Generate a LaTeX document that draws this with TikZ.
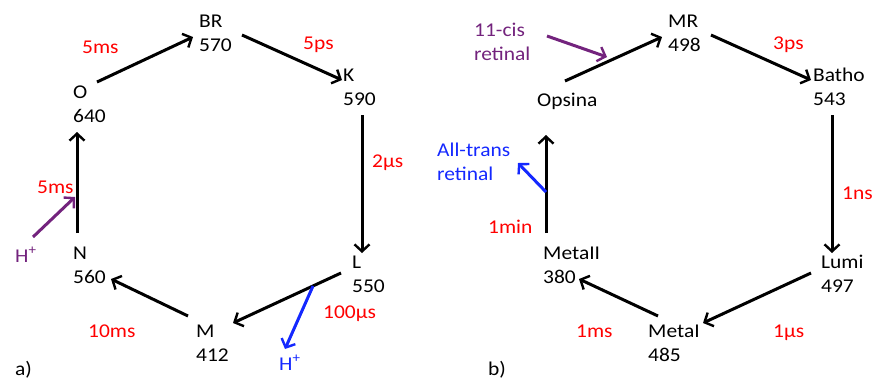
\documentclass[tikz,border=0pt]{standalone}
\usepackage{fontspec}
\setmainfont[FakeStretch=1.1]{Carlito}
\usetikzlibrary{arrows.meta}
\definecolor{tred}{RGB}{255,0,0}
\definecolor{tpurple}{RGB}{115,35,125}
\definecolor{tblue}{RGB}{20,40,255}
\tikzset{
  lbl/.style={anchor=base west, inner sep=0pt, align=left, font=\fontsize{19.5}{24}\selectfont},
  state/.style={lbl, text=black},
  rate/.style={lbl, text=tred},
  arr/.style={line width=3pt, -{Straight Barb[length=7pt,width=15pt,line width=2.4pt]}},
  parr/.style={arr, draw=tpurple},
  barr/.style={arr, draw=tblue}
}
\begin{document}
\begin{tikzpicture}[x=1pt,y=-1pt]
\useasboundingbox (0,0) rectangle (873,381);
% ---------- panel a ----------
\node[state] (BR) at (199,51) {BR\\570};
\node[state] (K)  at (343,105) {K\\590};
\node[state] (O)  at (73,122) {O\\640};
\node[state] (N)  at (73,283) {N\\560};
\node[state] (L)  at (352,292) {L\\550};
\node[state] (M)  at (196,361) {M\\412};
\node[lbl] (la) at (15,375) {a)};
\node[rate] (r1) at (82,53) {5ms};
\node[rate] (r2) at (303,49) {5ps};
\node[rate] (r3) at (372,167) {2µs};
\node[rate] (r4) at (37,193) {5ms};
\node[rate] (r5) at (323,318) {100µs};
\node[rate] (r6) at (88,337) {10ms};
\node[lbl, text=tpurple] (hp1) at (15,262) {H\textsuperscript{+}};
\node[lbl, text=tblue] (hp2) at (279,370) {H\textsuperscript{+}};
\coordinate (Oout) at (97,82);   \coordinate (BRin) at (193,37);
\coordinate (BRout) at (242,35); \coordinate (Kin) at (342,80);
\coordinate (Kout) at (362,115); \coordinate (Lin) at (362,253);
\coordinate (Lout) at (341,273); \coordinate (Min) at (233,323);
\coordinate (Mout) at (188,316); \coordinate (Nin) at (111,279);
\coordinate (Nout) at (77,233);  \coordinate (Oin) at (77,132);
\coordinate (hp1s) at (33,237);  \coordinate (hp1e) at (75,197);
\coordinate (hp2s) at (313,286); \coordinate (hp2e) at (285,349);
\draw[arr] (Oout) -- (BRin);
\draw[arr] (BRout) -- (Kin);
\draw[arr] (Kout) -- (Lin);
\draw[arr] (Lout) -- (Min);
\draw[arr] (Mout) -- (Nin);
\draw[arr] (Nout) -- (Oin);
\draw[parr] (hp1s) -- (hp1e);
\draw[barr] (hp2s) -- (hp2e);
% ---------- panel b ----------
\node[state] (MR) at (668,51) {MR\\498};
\node[state] (Ba) at (813,105) {Batho\\543};
\node[state] (Op) at (537,106) {Opsina};
\node[state] (M2) at (543,283) {MetaII\\380};
\node[state] (Lu) at (821,292) {Lumi\\497};
\node[state] (M1) at (648,361) {MetaI\\485};
\node[lbl] (lb) at (488,375) {b)};
\node[lbl, text=tpurple] (cis) at (474,60) {11-cis\\retinal};
\node[lbl, text=tblue] (trans) at (437,180) {All-trans\\retinal};
\node[rate] (s1) at (773,49) {3ps};
\node[rate] (s2) at (842,199) {1ns};
\node[rate] (s3) at (773,337) {1µs};
\node[rate] (s4) at (576,337) {1ms};
\node[rate] (s5) at (488,233) {1min};
\coordinate (Opout) at (565,81);  \coordinate (MRin) at (662,37);
\coordinate (MRout) at (711,35);  \coordinate (Bain) at (811,80);
\coordinate (Baout) at (832,115); \coordinate (Luin) at (832,253);
\coordinate (Luout) at (811,273); \coordinate (M1in) at (703,323);
\coordinate (M1out) at (658,316); \coordinate (M2in) at (579,279);
\coordinate (M2out) at (546,233); \coordinate (Opin) at (546,135);
\coordinate (cs) at (547,36);     \coordinate (ce) at (607,57);
\coordinate (ts) at (546,192);    \coordinate (te) at (518,163);
\draw[arr] (Opout) -- (MRin);
\draw[arr] (MRout) -- (Bain);
\draw[arr] (Baout) -- (Luin);
\draw[arr] (Luout) -- (M1in);
\draw[arr] (M1out) -- (M2in);
\draw[arr] (M2out) -- (Opin);
\draw[parr] (cs) -- (ce);
\draw[barr] (ts) -- (te);
\end{tikzpicture}
\end{document}
